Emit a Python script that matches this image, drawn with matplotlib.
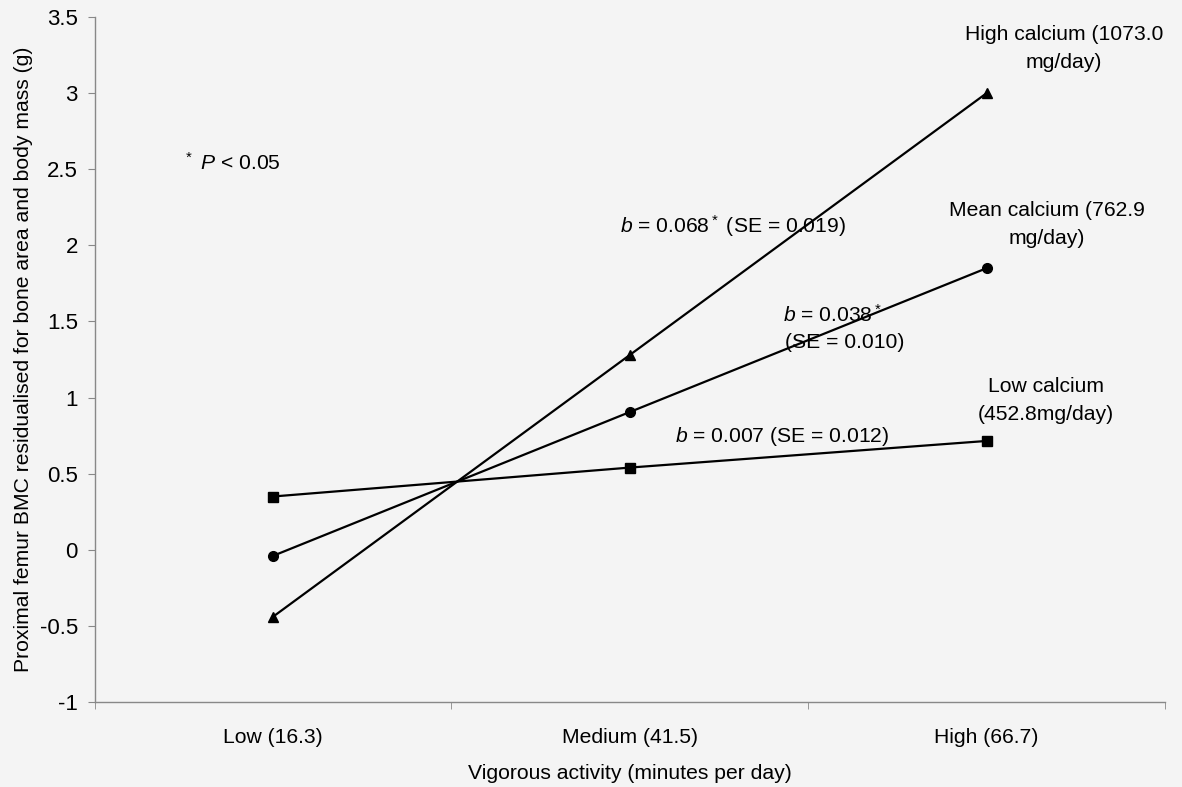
import matplotlib.pyplot as plt

plt.rcParams['font.family'] = ['Liberation Sans', 'DejaVu Sans']
plt.rcParams['mathtext.fontset'] = 'custom'
plt.rcParams['mathtext.rm'] = 'Liberation Sans'
plt.rcParams['mathtext.it'] = 'Liberation Sans:italic'

# kategorien der aktivität
activity = ["Low (16.3)", "Medium (41.5)", "High (66.7)"]

# werte (residualisiert) pro calcium-gruppe
high_ca = [-0.44, 1.28, 3.00]
mean_ca = [-0.04, 0.905, 1.85]
low_ca = [0.35, 0.54, 0.715]

yticks = [-1, -0.5, 0, 0.5, 1, 1.5, 2, 2.5, 3, 3.5]
ytick_labels = ["-1", "-0.5", "0", "0.5", "1", "1.5", "2", "2.5", "3", "3.5"]

bg = "#f4f4f4"
fs = 15.2
fig = plt.figure(figsize=(11.82, 7.87), dpi=100, facecolor=bg)
ax = fig.add_axes([0.080, 0.108, 0.9057, 0.8704])
ax.set_facecolor(bg)

xs = [i + 0.5 for i in range(len(activity))]
ax.plot(xs, high_ca, color="black", lw=1.6, marker="^", ms=7)
ax.plot(xs, mean_ca, color="black", lw=1.6, marker="o", ms=7)
ax.plot(xs, low_ca, color="black", lw=1.6, marker="s", ms=6.5)

ax.set_xlim(0, 3)
ax.set_ylim(-1, 3.5)
ax.set_yticks(yticks)
ax.set_yticklabels(ytick_labels, fontsize=16)
ax.set_xticks(xs)
ax.set_xticklabels(activity, fontsize=fs)
ax.set_xticks([0, 1, 2, 3], minor=True)
ax.tick_params(axis="x", which="major", length=0, pad=19)
ax.tick_params(axis="x", which="minor", length=5, color="#888888", direction="out")
ax.tick_params(axis="y", length=5, color="#888888", direction="out", pad=7)

for s in ["top", "right"]:
    ax.spines[s].set_visible(False)
for s in ["left", "bottom"]:
    ax.spines[s].set_color("#888888")
    ax.spines[s].set_linewidth(1.0)

ax.set_xlabel("Vigorous activity (minutes per day)", fontsize=fs, labelpad=12)
ax.set_ylabel("Proximal femur BMC residualised for bone area and body mass (g)",
              fontsize=fs, labelpad=5)

# beschriftungen
ax.text(0.248, 2.54, r"$^*$ $\mathit{P}$ < 0.05", fontsize=fs, va="center")
ax.text(1.473, 2.127, r"$\mathit{b}$ = 0.068$^*$ (SE = 0.019)", fontsize=fs, va="center")
ax.text(1.930, 1.543, r"$\mathit{b}$ = 0.038$^*$", fontsize=fs, va="center")
ax.text(1.936, 1.36, "(SE = 0.010)", fontsize=fs, va="center")
ax.text(1.627, 0.741, r"$\mathit{b}$ = 0.007 (SE = 0.012)", fontsize=fs, va="center")

ax.text(2.717, 3.382, "High calcium (1073.0", fontsize=fs, ha="center", va="center")
ax.text(2.717, 3.198, "mg/day)", fontsize=fs, ha="center", va="center")
ax.text(2.669, 2.231, "Mean calcium (762.9", fontsize=fs, ha="center", va="center")
ax.text(2.669, 2.048, "mg/day)", fontsize=fs, ha="center", va="center")
ax.text(2.667, 1.07, "Low calcium", fontsize=fs, ha="center", va="center")
ax.text(2.667, 0.886, "(452.8mg/day)", fontsize=fs, ha="center", va="center")

fig.savefig("out.png", dpi=100, facecolor=bg)
